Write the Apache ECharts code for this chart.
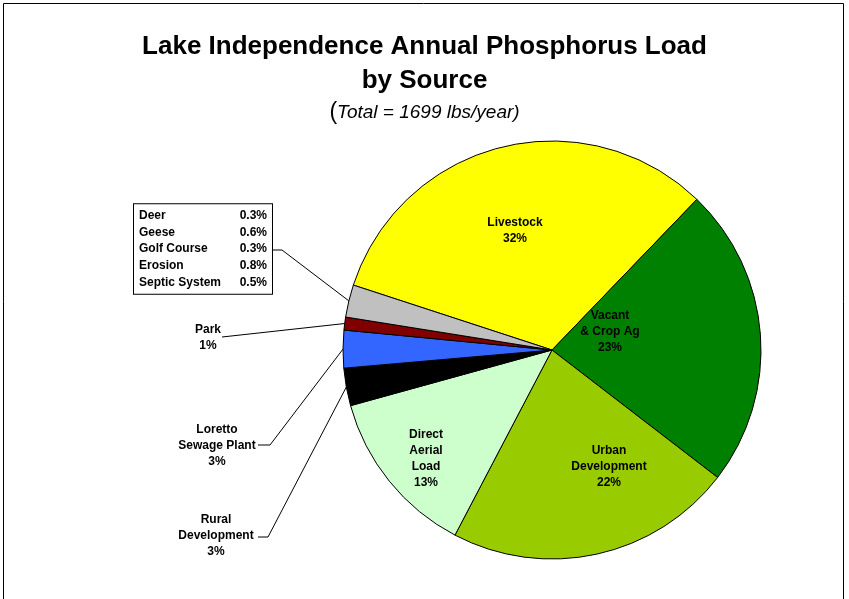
<!DOCTYPE html>
<html>
<head>
<meta charset="utf-8">
<script src="https://cdn.jsdelivr.net/npm/echarts@6/dist/echarts.min.js"></script>
<style>
html,body{margin:0;padding:0;background:#fff;}
#chart{width:849px;height:599px;}
</style>
</head>
<body>
<div id="chart"></div>
<script>
// ---- data ----
const titleLine1 = 'Lake Independence Annual Phosphorus Load';
const titleLine2 = 'by Source';
const totalLoad = 1699;
const categories = ['Livestock', 'Vacant\n& Crop Ag', 'Urban\nDevelopment', 'Direct\nAerial\nLoad', 'Rural\nDevelopment', 'Loretto\nSewage Plant', 'Park', 'Other'];
const values = [32.1, 23.2, 22.2, 13.0, 2.9, 2.9, 1.0];
const otherNames = ['Deer', 'Geese', 'Golf Course', 'Erosion', 'Septic System'];
const otherValues = [0.3, 0.6, 0.3, 0.8, 0.5];
const colors = ['#FFFF00', '#008000', '#99CC00', '#CCFFCC', '#000000', '#3366FF', '#800000', '#C0C0C0'];

// ---- layout (label placement only) ----
const insideSet = [true, true, true, true, false, false, false, false];
const labelPos = [[515, 231], [610, 332], [609, 467], [426, 459], [216, 536], [217, 446], [208, 338], [203, 249]];
const leaderBend = [null, null, null, null, [[268, 537], [258, 537]], [[270, 445], [258, 445]], [[222, 337], [222, 337]], [[282, 250], [273, 250]]];

const otherTotal = otherValues.reduce((a, b) => a + b, 0);
const allValues = values.concat([otherTotal]);

const chart = echarts.init(document.getElementById('chart'), null, {renderer: 'canvas'});

const data = categories.map((c, i) => {
  const isOther = i === categories.length - 1;
  const pct = Math.round(allValues[i]) + '%';
  const item = {
    name: c,
    value: allValues[i],
    itemStyle: {color: colors[i]},
    label: {
      position: insideSet[i] ? 'inside' : 'outside',
      formatter: isOther
        ? otherNames.map((n, k) => '{n|' + n + '}{v|' + otherValues[k].toFixed(1) + '%}').join('\n')
        : c + '\n' + pct
    },
    labelLine: {show: !insideSet[i]}
  };
  if (isOther) {
    Object.assign(item.label, {
      backgroundColor: '#fff',
      borderColor: '#000',
      borderWidth: 1,
      padding: [3, 5, 3, 5],
      rich: {
        n: {width: 92, align: 'left', fontWeight: 'bold', fontSize: 12, lineHeight: 16.7, fontFamily: 'Liberation Sans, Arial, sans-serif', color: '#000'},
        v: {width: 36, align: 'right', fontWeight: 'bold', fontSize: 12, lineHeight: 16.7, fontFamily: 'Liberation Sans, Arial, sans-serif', color: '#000'}
      }
    });
  }
  return item;
});

const option = {
  backgroundColor: '#fff',
  animation: false,
  title: [
    {
      text: titleLine1 + '\n' + titleLine2,
      left: 'center',
      top: 25,
      textStyle: {fontFamily: 'Liberation Sans, Arial, sans-serif', fontWeight: 'bold', fontSize: 26, lineHeight: 34, color: '#000'}
    },
    {
      text: '{p|(}{t|Total = ' + totalLoad + ' lbs/year)}',
      left: 'center',
      top: 96,
      textStyle: {
        fontWeight: 'normal',
        rich: {
          p: {fontFamily: 'Liberation Sans, Arial, sans-serif', fontWeight: 'normal', fontSize: 23, color: '#000'},
          t: {fontFamily: 'Liberation Sans, Arial, sans-serif', fontWeight: 'normal', fontStyle: 'italic', fontSize: 19, color: '#000'}
        }
      }
    }
  ],
  graphic: [
    {type: 'rect', shape: {x: 3.5, y: 3.5, width: 840, height: 640}, style: {fill: 'none', stroke: '#000', lineWidth: 1}, silent: true}
  ],
  series: [{
    type: 'pie',
    center: [552, 350],
    radius: 209,
    startAngle: 161.9,
    clockwise: true,
    avoidLabelOverlap: false,
    itemStyle: {borderColor: '#000', borderWidth: 1},
    label: {
      color: '#000',
      fontFamily: 'Liberation Sans, Arial, sans-serif',
      fontWeight: 'bold',
      fontSize: 12,
      lineHeight: 16,
      align: 'center'
    },
    labelLine: {lineStyle: {color: '#000', width: 1}, length: 10, length2: 10},
    emphasis: {disabled: true},
    labelLayout: function (params) {
      const i = params.dataIndex;
      const res = {x: labelPos[i][0], y: labelPos[i][1], align: 'center', verticalAlign: 'middle'};
      if (leaderBend[i] && params.labelLinePoints) {
        const p0 = params.labelLinePoints[0];
        res.labelLinePoints = [p0, leaderBend[i][0], leaderBend[i][1]];
      }
      return res;
    },
    data: data
  }]
};
chart.setOption(option);
</script>
</body>
</html>
